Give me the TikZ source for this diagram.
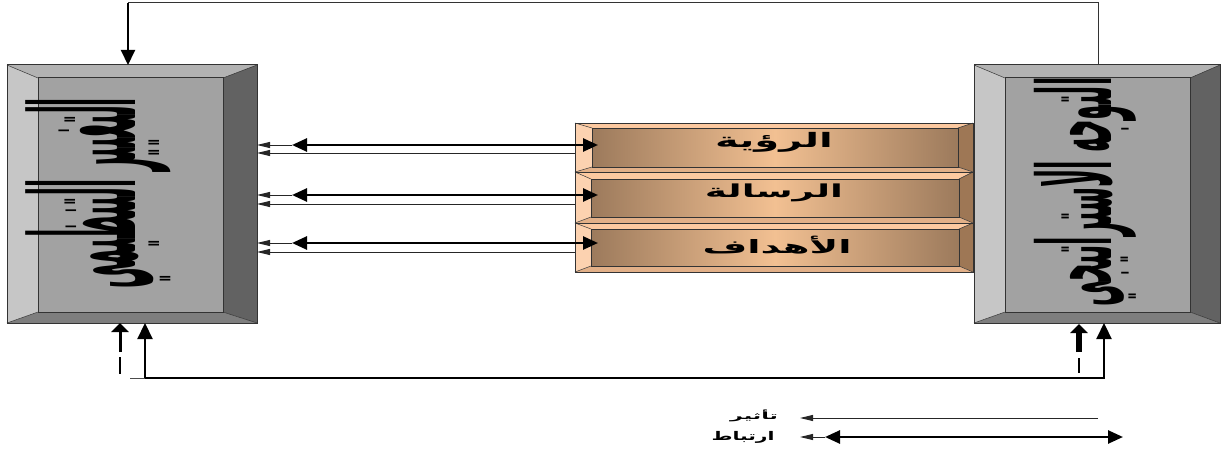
\documentclass[tikz,border=0pt]{standalone}
\usepackage{fontspec}
\usetikzlibrary{arrows.meta,calc}
\newfontfamily\arabicfont[Script=Arabic]{DejaVu Sans}
\TeXXeTstate=1
\definecolor{gL}{HTML}{C6C6C6}
\definecolor{gT}{HTML}{B2B2B2}
\definecolor{gR}{HTML}{626262}
\definecolor{gB}{HTML}{7E7E7E}
\definecolor{gF}{HTML}{A2A2A2}
\definecolor{pL}{HTML}{FCD2B0}
\definecolor{pT}{HTML}{FCC9A0}
\definecolor{pR}{HTML}{9E7755}
\definecolor{pB}{HTML}{E2B088}
\definecolor{pE}{HTML}{9C7A5C}
\definecolor{pM}{HTML}{F2C092}
\definecolor{lineG}{HTML}{333333}
% #1 name, #2-#5 outer x1 y1 x2 y2, #6-#9 inner x1 y1 x2 y2
\newcommand\bevelbox[9]{%
  \coordinate (#1-a) at (#2,#3);
  \coordinate (#1-b) at (#4,#3);
  \coordinate (#1-c) at (#4,#5);
  \coordinate (#1-d) at (#2,#5);
  \coordinate (#1-A) at (#6,#7);
  \coordinate (#1-B) at (#8,#7);
  \coordinate (#1-C) at (#8,#9);
  \coordinate (#1-D) at (#6,#9);
  \fill[bvT] (#1-a)--(#1-b)--(#1-B)--(#1-A)--cycle;
  \fill[bvR] (#1-b)--(#1-c)--(#1-C)--(#1-B)--cycle;
  \fill[bvB] (#1-c)--(#1-d)--(#1-D)--(#1-C)--cycle;
  \fill[bvL] (#1-d)--(#1-a)--(#1-A)--(#1-D)--cycle;
  \path[bvF] (#1-A) rectangle (#1-C);
  \draw[bvO] (#1-A) rectangle (#1-C);
  \draw[bvO] (#1-a) rectangle (#1-c);
  \draw[bvO,line width=0.5pt] (#1-a)--(#1-A) (#1-b)--(#1-B) (#1-c)--(#1-C) (#1-d)--(#1-D);
  \node[inner sep=0pt] (#1) at ($(#1-a)!.5!(#1-c)$) {};
}
\tikzset{
  graybox/.style={bvT/.style={fill=gT}, bvR/.style={fill=gR}, bvB/.style={fill=gB},
    bvL/.style={fill=gL}, bvF/.style={fill=gF}, bvO/.style={draw=lineG,line width=1pt}},
  peachbox/.style={bvT/.style={fill=pT}, bvR/.style={fill=pR}, bvB/.style={fill=pB},
    bvL/.style={fill=pL}, bvF/.style={left color=pE,right color=pE,middle color=pM},
    bvO/.style={draw=lineG,line width=0.8pt}},
  thinarr/.style={draw=black!85, line width=1pt, -{Triangle[length=13pt,width=6pt]}},
  dblarr/.style={line width=2.6pt, {Triangle[length=15pt,width=13pt]}-{Triangle[length=15pt,width=13pt]}},
  feed/.style={line width=2pt, -{Triangle[length=15pt,width=14pt]}},
  stub/.style={-{Triangle[length=9pt,width=17pt]}},
  vtext/.style={rotate=90, inner sep=0pt},
  bartext/.style={inner sep=0pt},
  legtext/.style={inner sep=0pt}
}
\begin{document}
\begin{tikzpicture}[x=1pt,y=-1pt]
\useasboundingbox (0,0) rectangle (1221,452);
% big boxes
\begin{scope}[graybox]
  \bevelbox{L}{7}{65}{257}{323}{38}{78}{223}{312}
  \bevelbox{R}{974}{65}{1220}{323}{1005}{78}{1190}{312}
\end{scope}
% bars
\begin{scope}[peachbox]
  \bevelbox{B1}{575}{123}{973}{172}{592}{128}{958}{167}
  \bevelbox{B2}{575}{172}{973}{223}{591}{179}{959}{217}
  \bevelbox{B3}{575}{223}{973}{272}{591}{229}{959}{266}
\end{scope}
% texts
\node[vtext] (LT) at (98,193) {\resizebox*{190pt}{145pt}{\arabicfont\bfseries\beginR التغيير التنظيمي\endR}};
\node[vtext] (RT) at (1085,192) {\resizebox*{229pt}{102pt}{\arabicfont\bfseries\beginR التوجه الاستراتيجي\endR}};
\node[bartext] (T1) at (774,142) {\resizebox*{118pt}{20pt}{\arabicfont\bfseries\beginR الرؤية\endR}};
\node[bartext] (T2) at (774,193) {\resizebox*{138pt}{18pt}{\arabicfont\bfseries\beginR الرسالة\endR}};
\node[bartext] (T3) at (777,245) {\resizebox*{149pt}{18pt}{\arabicfont\bfseries\beginR الأهداف\endR}};
% row connectors
\foreach \i/\ya/\yb in {1/145/153, 2/195/204, 3/243/252}{
  \coordinate (La\i) at (257,\ya);
  \coordinate (Lb\i) at (257,\yb);
  \coordinate (Da\i) at (292,\ya);
  \coordinate (Db\i) at (598,\ya);
  \coordinate (Bb\i) at (575,\yb);
  \draw[dblarr] (Da\i) -- (Db\i);
  \draw[thinarr] (Da\i) -- (La\i);
  \draw[thinarr] (Bb\i) -- (Lb\i);
}
% top feedback
\coordinate (RTop) at (1098,65);
\coordinate (TR) at (1098,3);
\coordinate (TL) at (128,3);
\coordinate (LTop) at (128,65);
\draw[lineG,line width=1pt] (RTop) -- (TR) -- (TL);
\draw[feed,line width=2pt] (TL) -- (LTop);
% bottom feedback
\coordinate (LBot) at (145,323);
\coordinate (BL) at (145,378);
\coordinate (BR) at (1104,378);
\coordinate (RBot) at (1104,323);
\draw[line width=2.2pt,{Triangle[length=16pt,width=15pt]}-{Triangle[length=16pt,width=15pt]}] (LBot) -- (BL) -- (BR) -- (RBot);
\coordinate (BLx) at (130,378);
\draw[black!70,line width=0.8pt] (BLx) -- (BL);
% stubs
\coordinate (SL1) at (120,352);
\coordinate (SL2) at (120,323);
\coordinate (SL3) at (120,357);
\coordinate (SL4) at (120,374);
\draw[stub,line width=3pt] (SL1) -- (SL2);
\draw[line width=1.5pt] (SL3) -- (SL4);
\coordinate (SR1) at (1079,352);
\coordinate (SR2) at (1079,324);
\coordinate (SR3) at (1079,358);
\coordinate (SR4) at (1079,373);
\draw[stub,line width=6pt] (SR1) -- (SR2);
\draw[line width=1.5pt] (SR3) -- (SR4);
% legend
\node[legtext] (G1) at (754,416) {\resizebox*{48pt}{12pt}{\arabicfont\bfseries\beginR تأثير\endR}};
\node[legtext] (G2) at (743,437) {\resizebox*{63pt}{12pt}{\arabicfont\bfseries\beginR ارتباط\endR}};
\coordinate (G1a) at (1098,418);
\coordinate (G1b) at (800,418);
\draw[thinarr] (G1a) -- (G1b);
\coordinate (G2a) at (825,437);
\coordinate (G2b) at (1123,437);
\coordinate (G2c) at (800,437);
\draw[thinarr] (G2a) -- (G2c);
\draw[dblarr] (G2a) -- (G2b);
\end{tikzpicture}
\end{document}
